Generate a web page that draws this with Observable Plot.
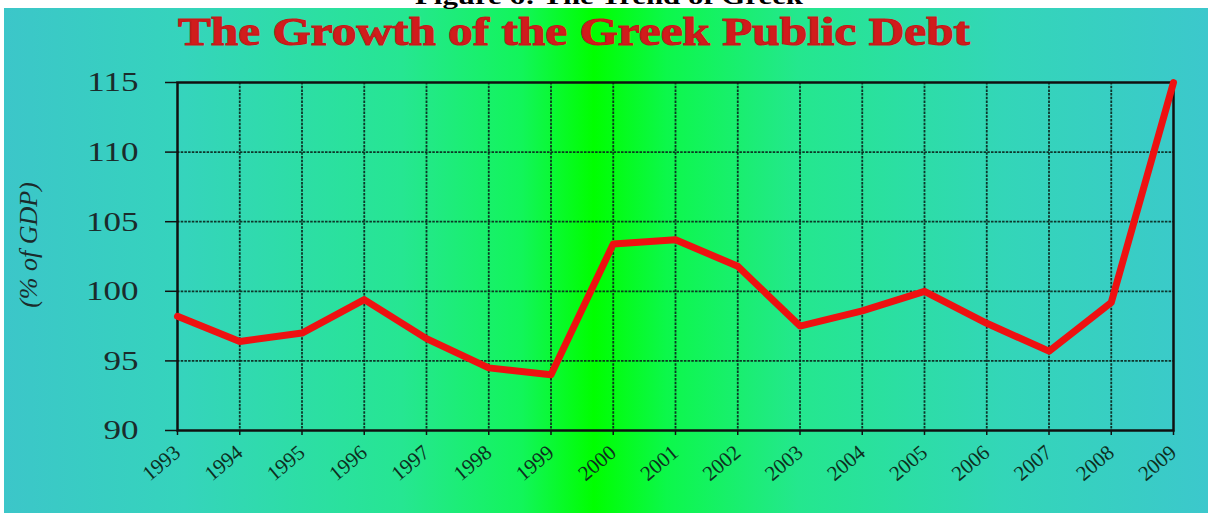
<!DOCTYPE html>
<html>
<head>
<meta charset="utf-8">
<script src="https://cdn.jsdelivr.net/npm/d3@7"></script>
<script src="https://cdn.jsdelivr.net/npm/@observablehq/plot@0.6"></script>
<style>
  html, body { margin: 0; padding: 0; background: #ffffff; }
  #wrap { position: relative; width: 1208px; height: 513px; overflow: hidden; background: #ffffff; }
  #bg { position: absolute; left: 4px; top: 8px; width: 1204px; height: 505px;
    background: linear-gradient(to right, #3cc6c9 0%, #35d4bc 15%, #26e692 33%, #12f55a 43%, #00ff00 49%, #0cf84a 55%, #24e78e 66%, #33d6b8 83%, #3cc8cc 100%); }
  #chart { position: absolute; left: 0; top: 0; }
  #overlay { position: absolute; left: 0; top: 0; pointer-events: none; }
  .serif { font-family: 'Liberation Serif', 'Times New Roman', Times, serif; }
</style>
</head>
<body>
<div id="wrap">
  <div id="bg"></div>
  <div id="chart"></div>
  <svg id="overlay" width="1208" height="513" xmlns="http://www.w3.org/2000/svg">
    <text class="serif" id="caption" x="415" y="4" style="font-weight:bold;font-size:24px" fill="#000" textLength="388" lengthAdjust="spacingAndGlyphs">Figure 6: The Trend of Greek</text>
    <text class="serif" id="title" x="178" y="45" style="font-weight:bold;font-size:40px" fill="#d11c1c" stroke="#c41818" stroke-width="1.1" textLength="792" lengthAdjust="spacingAndGlyphs">The Growth of the Greek Public Debt</text>
    <text class="serif" id="ylabel" transform="translate(37,245) rotate(-90)" text-anchor="middle" style="font-style:italic;font-size:26px" fill="#1b2b2b">(% of GDP)</text>
  </svg>
</div>
<script>
// ---- data ----
const years = [1993, 1994, 1995, 1996, 1997, 1998, 1999, 2000, 2001, 2002, 2003, 2004, 2005, 2006, 2007, 2008, 2009];
const debt  = [98.2, 96.4, 97.0, 99.4, 96.6, 94.5, 94.0, 103.4, 103.7, 101.8, 97.5, 98.6, 100.0, 97.7, 95.7, 99.2, 115.0];
const yTicks = [90, 95, 100, 105, 110, 115];

const rows = years.map((yr, i) => ({year: yr, value: debt[i]}));
const gridStyle = {stroke: "#0a241c", strokeWidth: 1.8, strokeDasharray: "2.5,1.2", strokeOpacity: 0.9};

const chart = Plot.plot({
  width: 1208,
  height: 513,
  marginLeft: 177,
  marginRight: 35,
  marginTop: 82,
  marginBottom: 83,
  style: {background: "transparent", fontFamily: "'Liberation Serif', 'Times New Roman', Times, serif", overflow: "visible"},
  x: {domain: [years[0], years[years.length - 1]]},
  y: {domain: [yTicks[0], yTicks[yTicks.length - 1]]},
  marks: [
    Plot.ruleX(years.slice(1, -1), gridStyle),
    Plot.ruleY(yTicks.slice(1, -1), gridStyle),
    Plot.axisY(yTicks, {tickSize: 12, tickPadding: 27, fontSize: 28, fill: "#1b2b2b", stroke: "#111", strokeWidth: 1.5, label: null}),
    Plot.axisX(years, {tickFormat: d => String(d), tickRotate: -40, tickSize: 5, tickPadding: 14, fontSize: 21, fill: "#0d2f1f", stroke: "#111", strokeWidth: 1.5, label: null}),
    Plot.frame({stroke: "#101010", strokeWidth: 2.5}),
    Plot.line(rows, {x: "year", y: "value", stroke: "#ee1111", strokeWidth: 7, strokeLinejoin: "round", strokeLinecap: "round"})
  ]
});
document.getElementById("chart").appendChild(chart);

// stretch y tick labels horizontally (the reference is horizontally stretched)
chart.querySelectorAll("[aria-label='y-axis tick label'] text").forEach(t => {
  const w = t.getComputedTextLength();
  t.setAttribute("textLength", (w * 1.25).toFixed(1));
  t.setAttribute("lengthAdjust", "spacingAndGlyphs");
});
</script>
</body>
</html>
